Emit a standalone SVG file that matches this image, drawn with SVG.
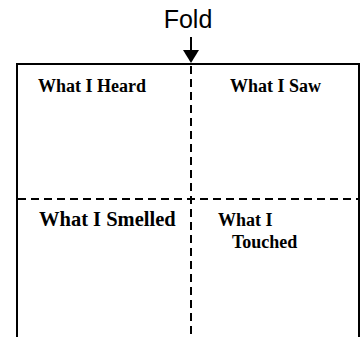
<svg xmlns="http://www.w3.org/2000/svg" width="361" height="337" viewBox="0 0 361 337">
<style>
.frame{fill:none;stroke:#000;stroke-width:2}
.dash{stroke:#000;stroke-width:2;stroke-dasharray:8 5;fill:none}
.lbl{font-family:"Liberation Serif","Times New Roman",serif;font-weight:bold;fill:#000;font-size:18px}
</style>
<rect width="361" height="337" fill="#fff"/>
<g id="sheet">
<path class="frame" d="M17,337 V64 H359 V337"/>
</g>
<g id="connectors">
<line class="dash" x1="191" y1="66" x2="191" y2="337"/>
<line class="dash" x1="18" y1="199" x2="358" y2="199"/>
<line x1="191" y1="37" x2="191" y2="52" stroke="#000" stroke-width="2"/>
<polygon points="183,50 199,50 191,63" fill="#000"/>
</g>
<g id="fold"><text x="188" y="28" text-anchor="middle" font-family="Liberation Sans,Arial,sans-serif" font-size="25">Fold</text></g>
<g id="heard"><text class="lbl" x="38" y="92">What I Heard</text></g>
<g id="saw"><text class="lbl" x="230" y="92">What I Saw</text></g>
<g id="smelled"><text class="lbl" x="39" y="226" style="font-size:20.5px">What I Smelled</text></g>
<g id="touched"><text class="lbl" x="218" y="226">What I</text><text class="lbl" x="232" y="248">Touched</text></g>
</svg>
